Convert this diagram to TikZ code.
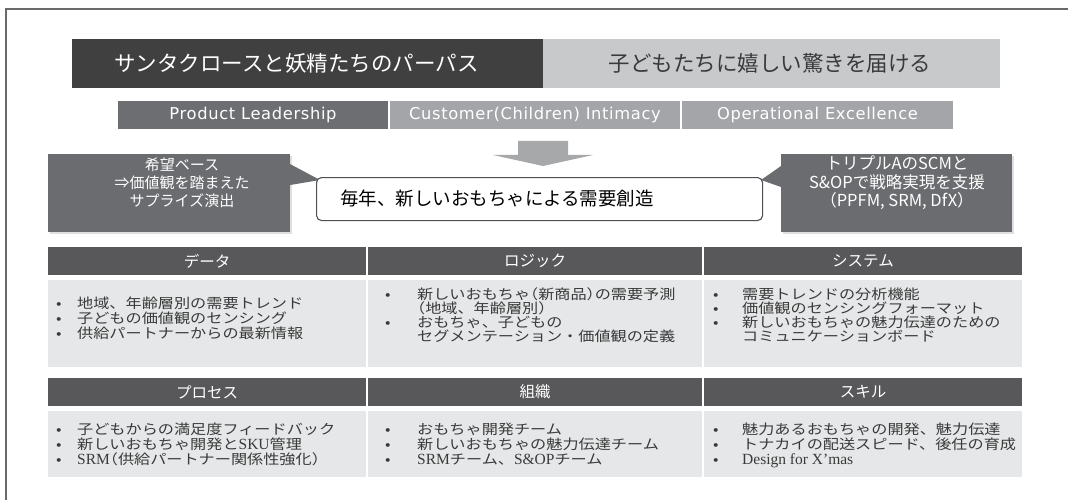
\documentclass[tikz,border=0pt]{standalone}
\usepackage{fontspec}
\setmainfont{Noto Sans CJK JP}
\newfontfamily\lserif{Liberation Serif}
\newfontfamily\psans[LetterSpace=4]{DejaVu Sans}
\newfontfamily\bodyf[FakeStretch=1.17]{Noto Sans CJK JP}
\usetikzlibrary{shadows}
\definecolor{titleDark}{HTML}{404041}
\definecolor{titleLight}{HTML}{C8C9CB}
\definecolor{pillarDark}{HTML}{6D6E71}
\definecolor{pillarLight}{HTML}{A4A5A8}
\definecolor{arrowGrey}{HTML}{A7A8AA}
\definecolor{calloutGrey}{HTML}{6B6C6F}
\definecolor{headGrey}{HTML}{58585A}
\definecolor{bodyGrey}{HTML}{E6E7E8}
\definecolor{borderGrey}{HTML}{505052}
\definecolor{textDark}{HTML}{3A3A3A}
\definecolor{frameGrey}{HTML}{6A6A6A}
\newcommand\ls[1]{{\lserif\fontsize{15.5}{16}\selectfont #1}}
\newcommand\hw[1]{{\addfontfeature{RawFeature=+halt}#1}}
\tikzset{
  cell/.style={rectangle, inner sep=0pt, outer sep=0pt, anchor=north west},
  purposeL/.style={cell, fill=titleDark},
  purposeR/.style={cell, fill=titleLight},
  ptext/.style={inner sep=0pt, anchor=base, font=\fontsize{21.5}{24}\selectfont},
  pillar/.style={cell, text=white, font=\psans\fontsize{16.3}{18}\selectfont, minimum height=28pt},
  callout/.style={cell, fill=calloutGrey,
     drop shadow={opacity=0.25, shadow xshift=2pt, shadow yshift=-2pt}},
  ctext/.style={inner sep=0pt, anchor=base, text=white},
  centerbox/.style={rectangle, rounded corners=5pt, draw=borderGrey, line width=1.1pt,
     fill=white, inner sep=0pt, anchor=north west},
  head/.style={cell, fill=headGrey, text=white, font=\fontsize{15.5}{18}\selectfont, minimum height=28pt},
  body/.style={cell, fill=bodyGrey},
  btext/.style={anchor=base west, inner sep=0pt, text=textDark, font=\bodyf\fontsize{13.8}{14}\selectfont},
}
% bullet line: name, bullet x, baseline y, text x, text
\newcommand\bl[5]{\node[btext] (#1) at (#2,#3) {\makebox[\dimexpr#4pt-#2pt\relax][l]{•}#5};}
\newcommand\cl[4]{\node[btext] (#1) at (#2,#3) {#4};}
\begin{document}
\begin{tikzpicture}[x=1pt,y=-1pt]
\useasboundingbox (0,0) rectangle (1068,500);
% frame
\draw[frameGrey, line width=1.6pt] (6,500) -- (6,9) -- (1068,9);

% purpose
\node[purposeL, minimum width=471pt, minimum height=49pt] (pl) at (72,39) {};
\node[purposeR, minimum width=457pt, minimum height=49pt] (pr) at (543,39) {};
\node[ptext, text=white] (plt) at (296.5,71.5) {サンタクロースと妖精たちのパーパス};
\node[ptext, text=textDark] (prt) at (770,71.5) {子どもたちに嬉しい驚きを届ける};

% pillars
\node[pillar, fill=pillarDark, minimum width=270pt] (p1) at (118,101) {Product Leadership};
\node[pillar, fill=pillarLight, minimum width=290pt] (p2) at (390,101) {Customer(Children) Intimacy};
\node[pillar, fill=pillarLight, minimum width=271pt] (p3) at (682,101) {Operational Excellence};

% arrow
\fill[arrowGrey] (518,141) -- (568,141) -- (568,155) -- (593,155) -- (543,166) -- (493,155) -- (518,155) -- cycle;

% callouts
\node[callout, minimum width=242pt, minimum height=78pt] (lc) at (48,154) {};
\node[callout, minimum width=231pt, minimum height=78pt] (rc) at (781,154) {};
\coordinate (lt) at (320,180);
\coordinate (rt) at (761,180);
\fill[calloutGrey] ([yshift=-10pt]lc.north east) -- (lt) -- ([yshift=-31pt]lc.north east) -- cycle;
\fill[calloutGrey] ([yshift=-12pt]rc.north west) -- (rt) -- ([yshift=-33pt]rc.north west) -- cycle;
\node[ctext, font=\fontsize{15}{18}\selectfont] (lc1) at (182,170) {希望ベース};
\node[ctext, font=\fontsize{15}{18}\selectfont] (lc2) at (182,188.5) {⇒価値観を踏まえた};
\node[ctext, font=\fontsize{15}{18}\selectfont] (lc3) at (182,206.5) {サプライズ演出};
\node[ctext, font=\fontsize{16.5}{18}\selectfont] (rc1) at (897,169.5) {トリプルAのSCMと};
\node[ctext, font=\fontsize{16.5}{18}\selectfont] (rc2) at (897,188) {S\&OPで戦略実現を支援};
\node[ctext, font=\fontsize{16.5}{18}\selectfont] (rc3) at (897,206.5) {（PPFM, SRM, DfX）};

% center box
\node[centerbox, minimum width=446pt, minimum height=43pt] (cb) at (316,177) {};
\node[inner sep=0pt, anchor=base, font=\fontsize{18.5}{22}\selectfont] (cbt) at (497,205.5) {毎年、新しいおもちゃによる需要創造};

% table row 1
\node[head, minimum width=318pt] (h1) at (48,247) {データ};
\node[head, minimum width=334pt] (h2) at (368,247) {ロジック};
\node[head, minimum width=318pt] (h3) at (704,247) {システム};
\node[body, minimum width=318pt, minimum height=87pt] (b1) at (48,280) {};
\node[body, minimum width=334pt, minimum height=87pt] (b2) at (368,280) {};
\node[body, minimum width=318pt, minimum height=87pt] (b3) at (704,280) {};

\bl{d1}{56}{308}{77}{地域、年齢層別の需要トレンド}
\bl{d2}{56}{323}{77}{子どもの価値観のセンシング}
\bl{d3}{56}{338}{77}{供給パートナーからの最新情報}

\bl{l1}{385}{299}{417}{新しいおもちゃ\hw{（}新商品\hw{）}の需要予測}
\cl{l2}{417}{313}{\hw{（}地域、年齢層別\hw{）}}
\bl{l3}{385}{327}{417}{おもちゃ、子どもの}
\cl{l4}{417}{341}{セグメンテーション・価値観の定義}

\bl{s1}{713}{299}{742}{需要トレンドの分析機能}
\bl{s2}{713}{313}{742}{価値観のセンシングフォーマット}
\bl{s3}{713}{327}{742}{新しいおもちゃの魅力伝達のための}
\cl{s4}{742}{341}{コミュニケーションボード}

% table row 2
\node[head, minimum width=318pt] (h4) at (48,378) {プロセス};
\node[head, minimum width=334pt] (h5) at (368,378) {組織};
\node[head, minimum width=318pt] (h6) at (704,378) {スキル};
\node[body, minimum width=318pt, minimum height=66pt] (b4) at (48,411) {};
\node[body, minimum width=334pt, minimum height=66pt] (b5) at (368,411) {};
\node[body, minimum width=318pt, minimum height=66pt] (b6) at (704,411) {};

\bl{r1}{56}{434}{77}{子どもからの満足度フィードバック}
\bl{r2}{56}{449}{77}{新しいおもちゃ開発と\ls{SKU}管理}
\bl{r3}{56}{464}{77}{\ls{SRM}\hw{（}供給パートナー関係性強化\hw{）}}

\bl{o1}{385}{434}{417}{おもちゃ開発チーム}
\bl{o2}{385}{449}{417}{新しいおもちゃの魅力伝達チーム}
\bl{o3}{385}{464}{417}{\ls{SRM}チーム、\ls{S\&OP}チーム}

\bl{k1}{713}{434}{742}{魅力あるおもちゃの開発、魅力伝達}
\bl{k2}{713}{449}{742}{トナカイの配送スピード、後任の育成}
\bl{k3}{713}{464}{742}{\ls{Design for X’mas}}
\end{tikzpicture}
\end{document}
